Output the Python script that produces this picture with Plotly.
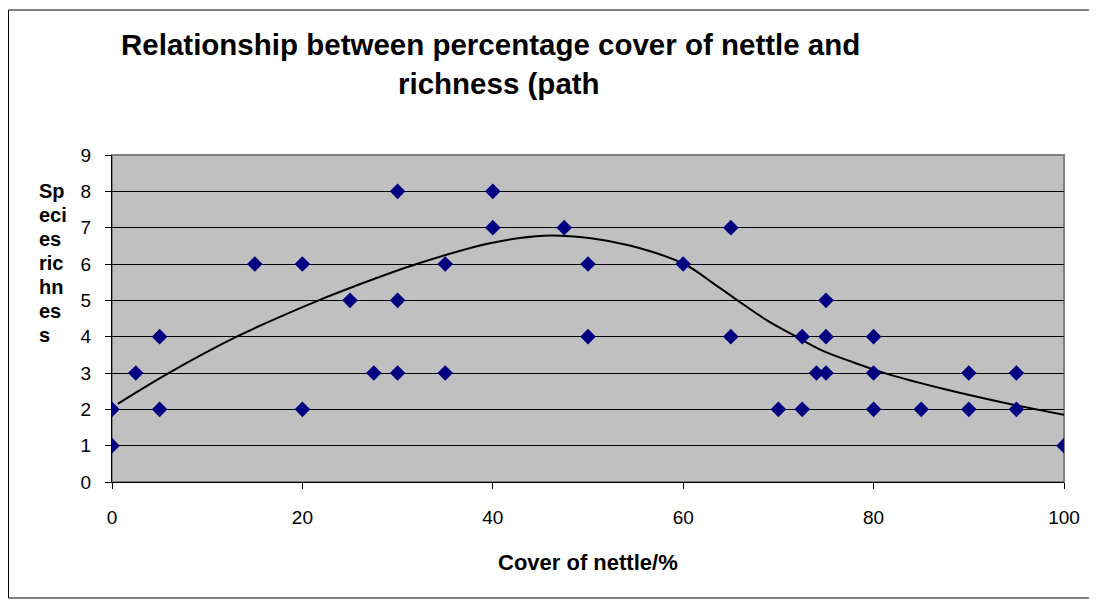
import plotly.graph_objects as go

# ---- data ----
cover = [0, 0, 2.5, 5, 5, 15, 20, 20, 25, 27.5, 30, 30, 30, 35, 35, 40, 40, 47.5, 50, 50,
         60, 65, 65, 70, 72.5, 72.5, 74, 75, 75, 75, 80, 80, 80, 85, 90, 90, 95, 95, 100]
richness = [2, 1, 3, 4, 2, 6, 6, 2, 5, 3, 8, 5, 3, 6, 3, 8, 7, 7, 6, 4,
            6, 7, 4, 2, 4, 2, 3, 5, 4, 3, 4, 3, 2, 2, 3, 2, 3, 2, 1]

# trend line samples
trend_x = [0.6, 5.9, 13.1, 21.7, 25.5, 32.0, 39.7, 45.4, 50.3, 54.5, 60.1, 63.2, 65.7,
           68.8, 71.6, 74.5, 77.9, 81.5, 87.4, 94.8, 100]
trend_y = [2.15, 2.99, 4.0, 5.0, 5.39, 6.0, 6.57, 6.78, 6.71, 6.5, 6.0, 5.46, 5.0,
           4.45, 4.04, 3.63, 3.29, 2.97, 2.56, 2.12, 1.85]

x_ticks = [0, 20, 40, 60, 80, 100]
y_ticks = list(range(0, 10))

title_line1 = "Relationship between percentage cover of nettle and"
title_line2 = "richness (path"
x_title = "Cover of nettle/%"
y_title_lines = ["Sp", "eci", "es", "ric", "hn", "es", "s"]

# ---- layout geometry (screen pixels; page body has an 8px margin) ----
OFF = 8
W, H = 1097 - OFF, 607 - OFF
L, R, T, B = 112 - OFF, 1064 - OFF, 155 - OFF, 482 - OFF
PW, PH = R - L, B - T


def px_x(sx):
    return (sx - OFF - L) / PW


def px_y(sy):
    return (B - (sy - OFF)) / PH


FONT = "Liberation Sans, Arial, sans-serif"

fig = go.Figure()
fig.add_trace(go.Scatter(
    x=trend_x, y=trend_y, mode="lines",
    line=dict(color="black", width=2, shape="spline", smoothing=1.0),
    hoverinfo="skip", showlegend=False,
))
fig.add_trace(go.Scatter(
    x=cover, y=richness, mode="markers",
    marker=dict(symbol="diamond", size=12, color="#000080"),
    showlegend=False,
))

annotations = [
    dict(text="<b>%s</b>" % title_line1, x=px_x(490), y=px_y(45), xref="paper", yref="paper",
         showarrow=False, xanchor="center", yanchor="middle",
         font=dict(family=FONT, size=29.5, color="black")),
    dict(text="<b>%s</b>" % title_line2, x=px_x(499), y=px_y(84), xref="paper", yref="paper",
         showarrow=False, xanchor="center", yanchor="middle",
         font=dict(family=FONT, size=29.5, color="black")),
    dict(text="<b>%s</b>" % x_title, x=px_x(588), y=px_y(562), xref="paper", yref="paper",
         showarrow=False, xanchor="center", yanchor="middle",
         font=dict(family=FONT, size=22, color="black")),
]
for i, part in enumerate(y_title_lines):
    annotations.append(dict(
        text="<b>%s</b>" % part, x=px_x(37), y=px_y(191 + 24 * i), xref="paper", yref="paper",
        showarrow=False, xanchor="left", yanchor="middle",
        font=dict(family=FONT, size=20, color="black")))

shapes = [
    # plot area border (grey)
    dict(type="rect", xref="paper", yref="paper", x0=0, y0=0, x1=1, y1=1,
         line=dict(color="#808080", width=2), layer="below"),
    # chart area border
    dict(type="rect", xref="paper", yref="paper",
         x0=px_x(8.5), y0=px_y(598), x1=px_x(1090), y1=px_y(10),
         line=dict(color="black", width=1)),
]

fig.update_layout(
    width=W, height=H,
    margin=dict(l=L, r=W - R, t=T, b=H - B, pad=0),
    paper_bgcolor="white", plot_bgcolor="#C0C0C0",
    font=dict(family=FONT, color="black"),
    showlegend=False,
    annotations=annotations,
    shapes=shapes,
    xaxis=dict(range=[0, 100], tickvals=x_ticks, ticktext=[str(v) for v in x_ticks],
               showgrid=False, zeroline=False, showline=True, linecolor="black", linewidth=1,
               ticks="outside", ticklen=6, tickcolor="black",
               tickfont=dict(size=19, family=FONT, color="black"), ticklabelstandoff=12),
    yaxis=dict(range=[0, 9], tickvals=y_ticks, ticktext=[str(v) for v in y_ticks],
               showgrid=True, gridcolor="black", gridwidth=1, zeroline=False,
               showline=True, linecolor="black", linewidth=1,
               ticks="outside", ticklen=6, tickcolor="black",
               tickfont=dict(size=19, family=FONT, color="black"), ticklabelstandoff=10),
)

fig.write_html("out.html")
